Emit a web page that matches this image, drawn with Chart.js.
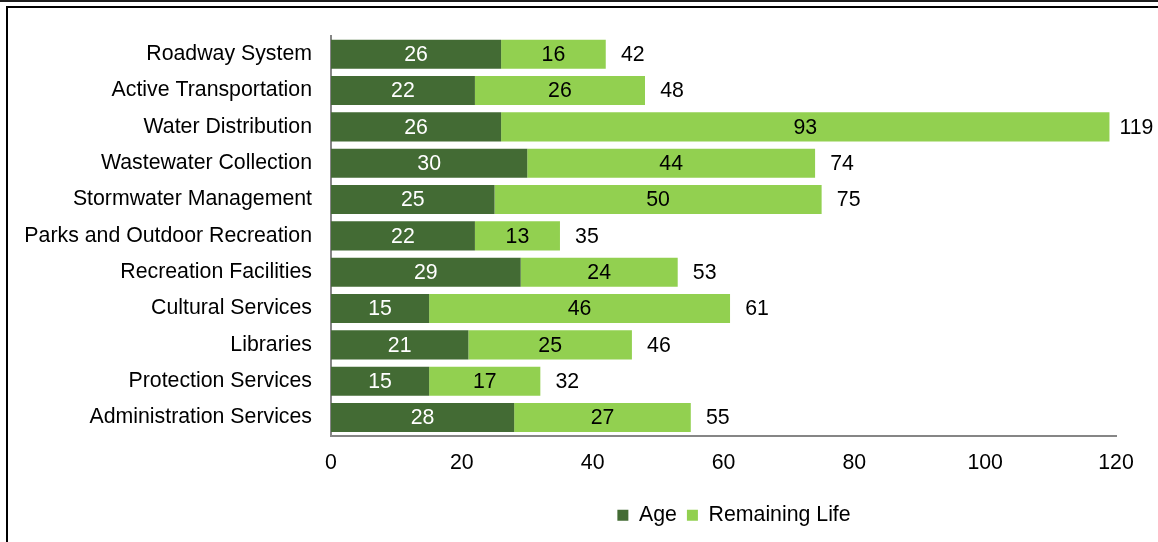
<!DOCTYPE html>
<html lang="en">
<head>
  <meta charset="UTF-8">
  <title>Asset Age and Remaining Life</title>
  <script src="https://cdn.jsdelivr.net/npm/chart.js"></script>
  <style>
    html, body {
      margin: 0;
      padding: 0;
      background: #fff;
      overflow: hidden;
    }
    .topline {
      position: absolute;
      left: 0;
      top: 0;
      width: 1158px;
      height: 2px;
      background: #1e1e1e;
    }
    .frame {
      position: absolute;
      left: 6px;
      top: 6px;
      width: 1160px;
      height: 540px;
      border-left: 2px solid #000;
      border-top: 2px solid #000;
    }
    #chartBox {
      position: absolute;
      left: 8px;
      top: 8px;
      width: 1150px;
      height: 534px;
    }
  </style>
</head>
<body>
  <div class="topline"></div>
  <div class="frame"></div>
  <div id="chartBox">
    <canvas id="lifeChart" width="1150" height="534"></canvas>
  </div>

  <script>
    // Data (years)
    const categories = [
      "Roadway System",
      "Active Transportation",
      "Water Distribution",
      "Wastewater Collection",
      "Stormwater Management",
      "Parks and Outdoor Recreation",
      "Recreation Facilities",
      "Cultural Services",
      "Libraries",
      "Protection Services",
      "Administration Services"
    ];
    const ageValues = [26, 22, 26, 30, 25, 22, 29, 15, 21, 15, 28];
    const remainingValues = [16, 26, 93, 44, 50, 13, 24, 46, 25, 17, 27];
    const totalValues = [42, 48, 119, 74, 75, 35, 53, 61, 46, 32, 55];
    const xTicks = [0, 20, 40, 60, 80, 100, 120];

    const FONT = "'Liberation Sans', Arial, sans-serif";
    const FSIZE = 21.3;
    const darkGreen = "#436b34";
    const lightGreen = "#92d050";

    // draws the numbers inside the segments and the totals at the bar ends
    const barLabels = {
      id: "barLabels",
      afterDatasetsDraw(chart) {
        const ctx = chart.ctx;
        ctx.save();
        ctx.font = FSIZE + "px " + FONT;
        ctx.textAlign = "center";
        ctx.textBaseline = "middle";
        const colors = ["#ffffff", "#000000"];
        chart.data.datasets.forEach((ds, di) => {
          const meta = chart.getDatasetMeta(di);
          meta.data.forEach((bar, i) => {
            ctx.fillStyle = colors[di];
            ctx.fillText(String(ds.data[i]), (bar.x + bar.base) / 2, bar.y + 1);
            if (di === chart.data.datasets.length - 1) {
              ctx.fillStyle = "#000";
              ctx.fillText(String(totalValues[i]), bar.x + 27, bar.y + 1);
            }
          });
        });
        ctx.restore();
      }
    };

    // moves the legend so it sits where the original one is
    const legendShift = {
      id: "legendShift",
      afterLayout(chart) {
        const lg = chart.legend;
        const target = 734 - 8;
        const d = target - (lg.left + lg.right) / 2;
        lg.left += d;
        lg.right += d;
      }
    };

    const ctx = document.getElementById("lifeChart").getContext("2d");
    new Chart(ctx, {
      type: "bar",
      data: {
        labels: categories,
        datasets: [
          {
            label: "Age",
            data: ageValues,
            backgroundColor: darkGreen,
            borderWidth: 0,
            barPercentage: 1,
            categoryPercentage: 0.8
          },
          {
            label: "Remaining Life",
            data: remainingValues,
            backgroundColor: lightGreen,
            borderWidth: 0,
            barPercentage: 1,
            categoryPercentage: 0.8
          }
        ]
      },
      options: {
        indexAxis: "y",
        responsive: false,
        animation: false,
        devicePixelRatio: 1,
        layout: {
          padding: { left: 0, right: 42, top: 28, bottom: 6 }
        },
        scales: {
          x: {
            stacked: true,
            min: 0,
            max: 120,
            afterBuildTicks(scale) {
              scale.ticks = xTicks.map(v => ({ value: v }));
            },
            afterFit(scale) {
              scale.height = 59;
            },
            grid: { display: false, drawTicks: true, tickLength: 10 },
            border: { display: true, color: "#868686", width: 2 },
            ticks: {
              padding: 5,
              color: "#000",
              font: { family: FONT, size: FSIZE }
            }
          },
          y: {
            stacked: true,
            afterFit(scale) {
              scale.width = 323;
            },
            grid: { display: false, drawTicks: true, tickLength: 11 },
            border: { display: true, color: "#868686", width: 2 },
            ticks: {
              padding: 8,
              color: "#000",
              font: { family: FONT, size: FSIZE }
            }
          }
        },
        plugins: {
          legend: {
            position: "bottom",
            labels: {
              boxWidth: 11,
              boxHeight: 11,
              padding: 10,
              color: "#000",
              font: { family: FONT, size: FSIZE }
            }
          },
          tooltip: { enabled: false }
        }
      },
      plugins: [barLabels, legendShift]
    });
  </script>
</body>
</html>
